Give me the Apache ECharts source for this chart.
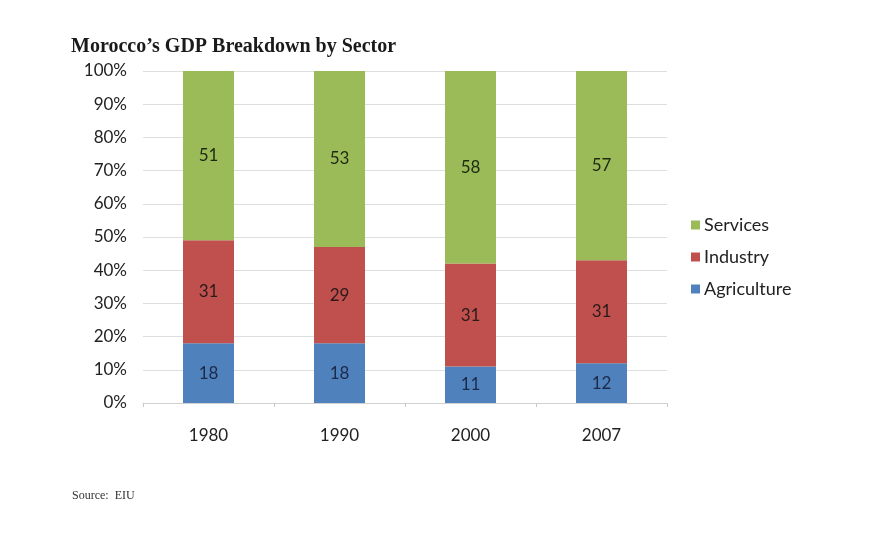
<!DOCTYPE html>
<html><head><meta charset="utf-8">
<script src="https://cdn.jsdelivr.net/npm/echarts@6/dist/echarts.min.js"></script>
<style>html,body{margin:0;padding:0;background:#fff}#c{width:895px;height:555px}</style>
</head><body><div id="c"></div>
<script>
const categories = ['1980', '1990', '2000', '2007'];
const agriculture = [18, 18, 11, 12];
const industry = [31, 29, 31, 31];
const services = [51, 53, 58, 57];
const yTicks = ['0%','10%','20%','30%','40%','50%','60%','70%','80%','90%','100%'];

const chart = echarts.init(document.getElementById('c'));
const FF = 'Lato, "Open Sans", sans-serif';
const lbl = (color) => ({show: true, position: 'inside', color: color, fontFamily: FF, fontSize: 17});
chart.setOption({
  animation: false,
  backgroundColor: '#fff',
  title: [{
    text: 'Morocco\u2019s GDP Breakdown by Sector', left: 66, top: 32,
    textStyle: {fontFamily: '"Liberation Serif", "DejaVu Serif", serif', fontWeight: 'bold', fontSize: 20, color: '#1a1a1a'}
  }, {
    text: 'Source:  EIU', left: 67, top: 485,
    textStyle: {fontFamily: '"Liberation Serif", serif', fontWeight: 'normal', fontSize: 12, color: '#333'}
  }],
  legend: {
    orient: 'vertical', left: 686, top: 211, itemGap: 14,
    itemWidth: 9, itemHeight: 9, icon: 'rect',
    data: ['Services', 'Industry', 'Agriculture'],
    textStyle: {fontFamily: FF, fontSize: 18, color: '#222', padding: [0,0,0,-1]}
  },
  grid: {left: 143, right: 228, top: 71, bottom: 152},
  xAxis: {
    type: 'category', data: categories,
    axisLine: {lineStyle: {color: '#d0d0d0'}},
    axisTick: {show: true, length: 4, lineStyle: {color: '#c8c8c8'}},
    axisLabel: {margin: 24, color: '#222', fontFamily: FF, fontSize: 17}
  },
  yAxis: {
    type: 'value', min: 0, max: 100, interval: 10,
    axisLine: {show: false}, axisTick: {show: false},
    splitLine: {lineStyle: {color: '#dedede'}},
    axisLabel: {margin: 16, color: '#222', fontFamily: FF, fontSize: 17,
      formatter: (v) => yTicks[Math.round(v / 10)]}
  },
  series: [
    {name: 'Agriculture', type: 'bar', stack: 's', data: agriculture, barWidth: 51,
     itemStyle: {color: '#4F81BD'}, label: lbl('#1c2a4a')},
    {name: 'Industry', type: 'bar', stack: 's', data: industry,
     itemStyle: {color: '#C0504D'}, label: lbl('#2a1a1a')},
    {name: 'Services', type: 'bar', stack: 's', data: services,
     itemStyle: {color: '#9BBB59'}, label: lbl('#1e2a10')}
  ]
});
</script></body></html>
